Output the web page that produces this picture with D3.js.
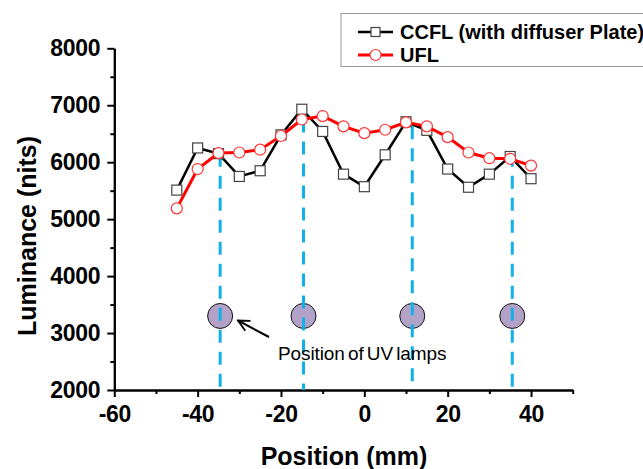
<!DOCTYPE html>
<html>
<head>
<meta charset="utf-8">
<script src="https://cdn.jsdelivr.net/npm/d3@7"></script>
<style>
  body { margin: 0; background: #fff; }
  svg { display: block; font-family: "Liberation Sans", Arial, sans-serif; }
</style>
</head>
<body>
<div id="chart"></div>
<script>
const positions = [-45, -40, -35, -30, -25, -20, -15, -10, -5, 0, 5, 10, 15, 20, 25, 30, 35, 40];
const ccflValues = [5510, 6250, 6150, 5750, 5850, 6480, 6930, 6540, 5790, 5570, 6130, 6710, 6560, 5880, 5560, 5790, 6100, 5710];
const uflValues = [5190, 5880, 6160, 6170, 6220, 6460, 6750, 6810, 6630, 6510, 6570, 6700, 6630, 6440, 6170, 6070, 6060, 5940];
const lampPositions = [-34.6, -14.6, 11.5, 35.5];
const lampTopValues = [6150, 6750, 6630, 6150];
const lampMarkValue = 3300;
const xTicks = [-60, -40, -20, 0, 20, 40];
const xMinorTicks = [-50, -30, -10, 10, 30, 50];
const yTicks = [2000, 3000, 4000, 5000, 6000, 7000, 8000];
const yMinorTicks = [2500, 3500, 4500, 5500, 6500, 7500];
const seriesNames = ['CCFL (with diffuser Plate)', 'UFL'];

const width = 643;
const height = 469;

const svg = d3.select('#chart').append('svg')
    .attr('width', width)
    .attr('height', height);

const x = d3.scaleLinear([-60, 50], [114.3, 572.7]);
const y = d3.scaleLinear([2000, 8000], [390, 48.3]);

// axes
svg.append('g')
    .attr('transform', `translate(0, ${y(2000)})`)
    .call(d3.axisBottom(x).tickValues(xTicks).tickFormat(d => String(d))
      .tickSize(7).tickPadding(9).tickSizeOuter(0));
svg.append('g')
    .attr('transform', `translate(0, ${y(2000)})`)
    .call(d3.axisBottom(x).tickValues(xMinorTicks).tickSize(4).tickFormat('').tickSizeOuter(0));
svg.append('g')
    .attr('transform', `translate(${x(-60)}, 0)`)
    .call(d3.axisLeft(y).tickValues(yTicks).tickFormat(d => String(d))
      .tickSize(7).tickPadding(7).tickSizeOuter(0));
svg.append('g')
    .attr('transform', `translate(${x(-60)}, 0)`)
    .call(d3.axisLeft(y).tickValues(yMinorTicks).tickSize(4).tickFormat('').tickSizeOuter(0));

svg.selectAll('.domain').attr('stroke', '#000').attr('stroke-width', 2);
svg.selectAll('.tick line').attr('stroke', '#000').attr('stroke-width', 2);
svg.selectAll('.tick text')
    .attr('fill', '#000')
    .attr('font-family', '"Liberation Sans", Arial, sans-serif')
    .attr('font-size', 23)
    .attr('font-weight', 'bold')
    .attr('letter-spacing', -0.3);

svg.append('text')
    .attr('x', 344)
    .attr('y', 465)
    .attr('text-anchor', 'middle')
    .attr('font-size', 25)
    .attr('font-weight', 'bold')
    .text('Position (mm)');

svg.append('text')
    .attr('transform', 'translate(36, 236) rotate(-90)')
    .attr('text-anchor', 'middle')
    .attr('font-size', 25)
    .attr('font-weight', 'bold')
    .text('Luminance (nits)');

// UV lamp markers
svg.selectAll('.lamp')
  .data(lampPositions)
  .join('circle')
    .attr('class', 'lamp')
    .attr('cx', d => x(d))
    .attr('cy', y(lampMarkValue))
    .attr('r', 12.5)
    .attr('fill', '#b3a2c7')
    .attr('stroke', '#111')
    .attr('stroke-width', 1);

svg.selectAll('.lamp-line')
  .data(lampPositions)
  .join('line')
    .attr('class', 'lamp-line')
    .attr('x1', d => x(d))
    .attr('x2', d => x(d))
    .attr('y1', (d, i) => y(lampTopValues[i]))
    .attr('y2', y(2000))
    .attr('stroke', '#12b0ea')
    .attr('stroke-width', 3)
    .attr('stroke-dasharray', '13,9');

// annotation
svg.append('defs').append('marker')
    .attr('id', 'arrow')
    .attr('viewBox', '0 0 10 10')
    .attr('refX', 9)
    .attr('refY', 5)
    .attr('markerWidth', 7)
    .attr('markerHeight', 7)
    .attr('orient', 'auto')
  .append('path')
    .attr('d', 'M1,1 L9,5 L1,9')
    .attr('fill', 'none')
    .attr('stroke', '#000')
    .attr('stroke-width', 1.3);

svg.append('line')
    .attr('x1', 269)
    .attr('y1', 337)
    .attr('x2', 238)
    .attr('y2', 320.5)
    .attr('stroke', '#000')
    .attr('stroke-width', 2)
    .attr('marker-end', 'url(#arrow)');

svg.append('text')
    .attr('x', 278)
    .attr('y', 360)
    .attr('font-size', 19)
    .attr('letter-spacing', -0.1)
    .attr('word-spacing', -2)
    .text('Position of UV lamps');

// series
const line = d3.line().x(d => x(d[0])).y(d => y(d[1]));
const ccfl = positions.map((p, i) => [p, ccflValues[i]]);
const ufl = positions.map((p, i) => [p, uflValues[i]]);

svg.append('path')
    .datum(ccfl)
    .attr('d', line)
    .attr('fill', 'none')
    .attr('stroke', '#000')
    .attr('stroke-width', 2.5);
svg.selectAll('.sq')
  .data(ccfl)
  .join('rect')
    .attr('class', 'sq')
    .attr('x', d => x(d[0]) - 5)
    .attr('y', d => y(d[1]) - 5)
    .attr('width', 10)
    .attr('height', 10)
    .attr('fill', '#fff')
    .attr('stroke', '#444')
    .attr('stroke-width', 1.2);

svg.append('path')
    .datum(ufl)
    .attr('d', line)
    .attr('fill', 'none')
    .attr('stroke', '#f00')
    .attr('stroke-width', 3);
svg.selectAll('.ci')
  .data(ufl)
  .join('circle')
    .attr('class', 'ci')
    .attr('cx', d => x(d[0]))
    .attr('cy', d => y(d[1]))
    .attr('r', 5.5)
    .attr('fill', '#fff')
    .attr('stroke', '#f33')
    .attr('stroke-width', 1.2);

// legend
const legend = svg.append('g');
legend.append('rect')
    .attr('x', 341)
    .attr('y', 13.5)
    .attr('width', 320)
    .attr('height', 53)
    .attr('fill', '#fff')
    .attr('stroke', '#999')
    .attr('stroke-width', 1);

seriesNames.forEach((name, i) => {
  const cy = 32 + i * 23;
  const g = legend.append('g');
  g.append('line')
      .attr('x1', 358).attr('x2', 393)
      .attr('y1', cy).attr('y2', cy)
      .attr('stroke', i === 0 ? '#000' : '#f00')
      .attr('stroke-width', i === 0 ? 2.5 : 3);
  if (i === 0) {
    g.append('rect')
        .attr('x', 371).attr('y', cy - 4.5)
        .attr('width', 9).attr('height', 9)
        .attr('fill', '#fff').attr('stroke', '#444').attr('stroke-width', 1.2);
  } else {
    g.append('circle')
        .attr('cx', 375.5).attr('cy', cy).attr('r', 5.5)
        .attr('fill', '#fff').attr('stroke', '#f33').attr('stroke-width', 1.2);
  }
  g.append('text')
      .attr('x', 400)
      .attr('y', cy + 7)
      .attr('font-size', 20)
      .attr('font-weight', 'bold')
      .text(name);
});
</script>
</body>
</html>
